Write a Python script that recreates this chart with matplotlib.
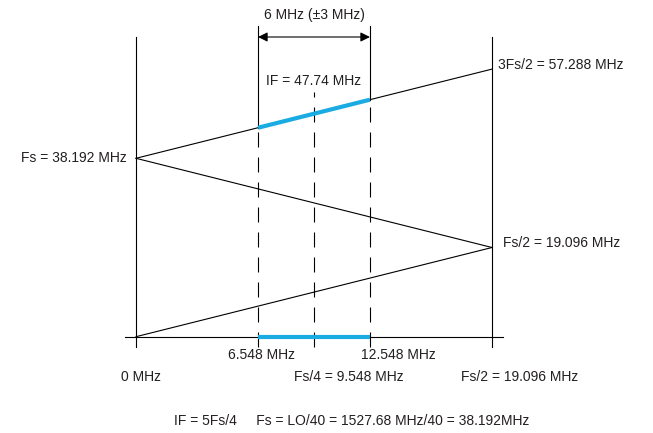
import matplotlib
matplotlib.use("Agg")
import matplotlib.pyplot as plt

# frequencies in MHz
fs = 38.192
f_low = 6.548
f_mid = 9.548
f_high = 12.548
f_nyq = 19.096
f_top = 57.288

# the three folding lines (x, y pairs)
up_x = [0, f_nyq]
up_y = [fs, f_top]
down_x = [0, f_nyq]
down_y = [fs, f_nyq]
base_x = [0, f_nyq]
base_y = [0, f_nyq]

# signal band
band_x = [f_low, f_high]
band_up_y = [fs + f_low, fs + f_high]
band_base_y = [0, 0]

blue = "#1aabe2"
plt.rcParams['font.family'] = ['Liberation Sans', 'DejaVu Sans']

fig = plt.figure(figsize=(6.53, 4.33), dpi=100)
ax = fig.add_axes([0, 0, 1, 1])
px = 18.643  # pixels per MHz horizontally
py = 4.671   # pixels per MHz vertically
ax.set_xlim(-136 / px, (653 - 136) / px)
ax.set_ylim(-(433 - 336.7) / py, 336.7 / py)
ax.axis('off')

lw = 0.8
# frame lines
ax.plot([-11 / px, (503 - 136) / px], [0, 0], color='k', lw=lw)
ax.plot([0, 0], [-10 / py, (336.7 - 37) / py], color='k', lw=lw)
ax.plot([f_nyq, f_nyq], [-10 / py, (336.7 - 37) / py], color='k', lw=lw)

# folding lines
ax.plot(up_x, up_y, color='k', lw=lw)
ax.plot(down_x, down_y, color='k', lw=lw)
ax.plot(base_x, base_y, color='k', lw=lw)

# band edge lines: solid above the band, dashed below
top_y = (336.7 - 26) / py
ax.plot([f_low, f_low], [fs + f_low, top_y], color='k', lw=lw)
ax.plot([f_high, f_high], [fs + f_high, top_y], color='k', lw=lw)
ax.plot([f_low, f_low], [-10 / py, fs + f_low], color='k', lw=lw, dashes=(13.5, 9))
ax.plot([f_high, f_high], [-10 / py, fs + f_high], color='k', lw=lw, dashes=(13.5, 9))
ax.plot([f_mid, f_mid], [-10 / py, (336.7 - 92) / py], color='k', lw=lw, dashes=(13.5, 9))

# blue band segments
ax.plot(band_x, band_up_y, color=blue, lw=3, solid_capstyle='butt')
ax.plot(band_x, band_base_y, color=blue, lw=3, solid_capstyle='butt')

# arrow
arr_y = (336.7 - 37) / py
ax.annotate('', xy=(f_low, arr_y), xytext=(f_high, arr_y),
            arrowprops=dict(arrowstyle='<|-|>', color='k', lw=lw,
                            mutation_scale=14, shrinkA=0, shrinkB=0))

fsz = 10
def t(xp, yp, s, ha='center'):
    ax.text((xp - 136) / px, (336.7 - yp) / py, s, ha=ha, va='center',
            fontsize=fsz, color='#231f20')

t(314, 15, '6 MHz (\u00b13 MHz)')
t(314, 81, 'IF = 47.74 MHz')
t(498, 65, '3Fs/2 = 57.288 MHz', ha='left')
t(127, 158, 'Fs = 38.192 MHz', ha='right')
t(503, 243, 'Fs/2 = 19.096 MHz', ha='left')
t(261, 355, '6.548 MHz')
t(398, 355, '12.548 MHz')
t(121, 377, '0 MHz', ha='left')
t(349, 377, 'Fs/4 = 9.548 MHz')
t(520, 377, 'Fs/2 = 19.096 MHz')
t(352, 421, 'IF = 5Fs/4     Fs = LO/40 = 1527.68 MHz/40 = 38.192MHz')

fig.savefig('out.png', dpi=100)
